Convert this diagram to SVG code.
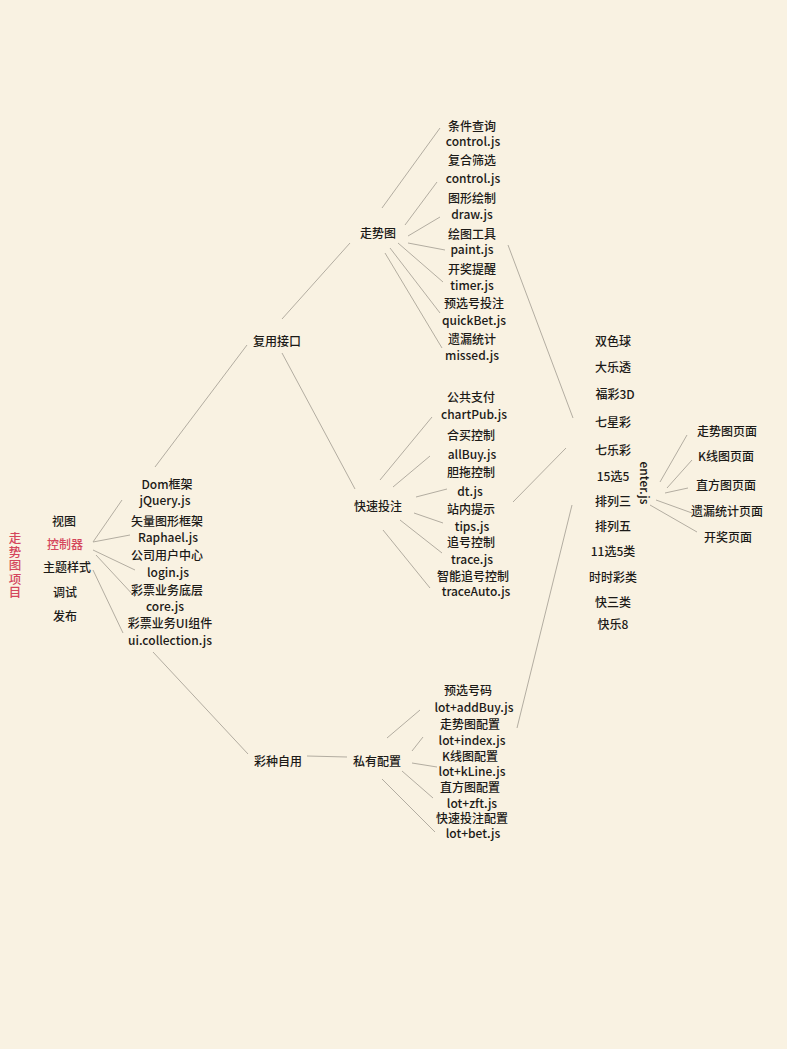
<svg xmlns="http://www.w3.org/2000/svg" width="787" height="1049" viewBox="0 0 787 1049">
<style>
text{font-family:"Noto Sans CJK SC","Noto Sans",sans-serif;font-size:12px;font-weight:500;fill:#1c1a17;text-anchor:middle;dominant-baseline:central}
.red{fill:#d4465c}
.vt{writing-mode:vertical-rl;letter-spacing:1px;font-size:12.5px}
.c line{stroke:#b3ada1;stroke-width:1}
</style>
<rect width="787" height="1049" fill="#f9f2e2"/>
<g class="c" id="connectors">
<line x1="93" y1="542" x2="122" y2="500"/>
<line x1="93" y1="542" x2="130" y2="535"/>
<line x1="93" y1="550" x2="135" y2="570"/>
<line x1="96" y1="555" x2="135" y2="597"/>
<line x1="93" y1="570" x2="123" y2="633"/>
<line x1="155" y1="467" x2="247" y2="345"/>
<line x1="282" y1="319" x2="350" y2="243"/>
<line x1="282" y1="353" x2="355" y2="489"/>
<line x1="153" y1="652" x2="248" y2="754"/>
<line x1="307" y1="756" x2="347" y2="757"/>
<line x1="382" y1="208" x2="440" y2="128"/>
<line x1="405" y1="225" x2="437" y2="182"/>
<line x1="408" y1="236" x2="440" y2="217"/>
<line x1="408" y1="243" x2="445" y2="250"/>
<line x1="398" y1="243" x2="443" y2="282"/>
<line x1="390" y1="248" x2="440" y2="313"/>
<line x1="385" y1="253" x2="442" y2="348"/>
<line x1="380" y1="480" x2="432" y2="417"/>
<line x1="393" y1="487" x2="430" y2="456"/>
<line x1="416" y1="497" x2="447" y2="489"/>
<line x1="414" y1="513" x2="443" y2="523"/>
<line x1="400" y1="520" x2="442" y2="553"/>
<line x1="383" y1="530" x2="430" y2="588"/>
<line x1="387" y1="738" x2="420" y2="710"/>
<line x1="412" y1="751" x2="423" y2="737"/>
<line x1="412" y1="763" x2="437" y2="767"/>
<line x1="402" y1="771" x2="433" y2="798"/>
<line x1="382" y1="779" x2="435" y2="832"/>
<line x1="508" y1="245" x2="573" y2="418"/>
<line x1="566" y1="448" x2="513" y2="502"/>
<line x1="572" y1="505" x2="517" y2="728"/>
<line x1="660" y1="482" x2="687" y2="435"/>
<line x1="667" y1="488" x2="692" y2="460"/>
<line x1="665" y1="493" x2="688" y2="488"/>
<line x1="656" y1="500" x2="692" y2="513"/>
<line x1="650" y1="505" x2="697" y2="532"/>
</g>
<g id="root"><text class="red vt" x="15" y="566">走势图项目</text></g>
<g id="n-view"><text x="64" y="520">视图</text></g>
<g id="n-ctrl"><text class="red" x="65" y="543">控制器</text></g>
<g id="n-theme"><text x="67" y="566">主题样式</text></g>
<g id="n-debug"><text x="65" y="591">调试</text></g>
<g id="n-pub"><text x="65" y="615">发布</text></g>
<g id="n-dom"><text x="167" y="483">Dom框架</text><text x="165" y="499">jQuery.js</text></g>
<g id="n-raphael"><text x="167" y="520">矢量图形框架</text><text x="168" y="536">Raphael.js</text></g>
<g id="n-login"><text x="167" y="554">公司用户中心</text><text x="168" y="571">login.js</text></g>
<g id="n-core"><text x="167" y="589">彩票业务底层</text><text x="165" y="605">core.js</text></g>
<g id="n-ui"><text x="170" y="622">彩票业务UI组件</text><text x="170" y="639">ui.collection.js</text></g>
<g id="n-reuse"><text x="277" y="340">复用接口</text></g>
<g id="n-own"><text x="278" y="760">彩种自用</text></g>
<g id="n-trend"><text x="378" y="232">走势图</text></g>
<g id="n-quick"><text x="378" y="505">快速投注</text></g>
<g id="n-private"><text x="377" y="760">私有配置</text></g>
<g id="t1"><text x="472" y="125">条件查询</text><text x="473" y="140">control.js</text></g>
<g id="t2"><text x="472" y="159">复合筛选</text><text x="473" y="177">control.js</text></g>
<g id="t3"><text x="472" y="197">图形绘制</text><text x="472" y="213">draw.js</text></g>
<g id="t4"><text x="472" y="233">绘图工具</text><text x="472" y="248">paint.js</text></g>
<g id="t5"><text x="472" y="268">开奖提醒</text><text x="472" y="284">timer.js</text></g>
<g id="t6"><text x="474" y="302">预选号投注</text><text x="474" y="319">quickBet.js</text></g>
<g id="t7"><text x="472" y="338">遗漏统计</text><text x="472" y="354">missed.js</text></g>
<g id="q1"><text x="471" y="396">公共支付</text><text x="474" y="413">chartPub.js</text></g>
<g id="q2"><text x="471" y="434">合买控制</text><text x="472" y="453">allBuy.js</text></g>
<g id="q3"><text x="471" y="471">胆拖控制</text><text x="470" y="490">dt.js</text></g>
<g id="q4"><text x="471" y="508">站内提示</text><text x="472" y="525">tips.js</text></g>
<g id="q5"><text x="471" y="541">追号控制</text><text x="472" y="558">trace.js</text></g>
<g id="q6"><text x="473" y="575">智能追号控制</text><text x="476" y="590">traceAuto.js</text></g>
<g id="p1"><text x="468" y="689">预选号码</text><text x="474" y="706">lot+addBuy.js</text></g>
<g id="p2"><text x="470" y="723">走势图配置</text><text x="472" y="739">lot+index.js</text></g>
<g id="p3"><text x="470" y="755">K线图配置</text><text x="472" y="770">lot+kLine.js</text></g>
<g id="p4"><text x="470" y="786">直方图配置</text><text x="472" y="802">lot+zft.js</text></g>
<g id="p5"><text x="472" y="817">快速投注配置</text><text x="473" y="832">lot+bet.js</text></g>
<g id="lotteries">
<text x="613" y="340">双色球</text><text x="613" y="366">大乐透</text><text x="615" y="393">福彩3D</text><text x="613" y="421">七星彩</text><text x="613" y="449">七乐彩</text><text x="613" y="475">15选5</text><text x="613" y="500">排列三</text><text x="613" y="525">排列五</text><text x="613" y="550">11选5类</text><text x="613" y="576">时时彩类</text><text x="613" y="601">快三类</text><text x="613" y="623">快乐8</text>
</g>
<g id="enter"><text transform="translate(645,483) rotate(90)" x="0" y="0">enter.js</text></g>
<g id="pages">
<text x="727" y="430">走势图页面</text><text x="726" y="455">K线图页面</text><text x="726" y="484">直方图页面</text><text x="727" y="510">遗漏统计页面</text><text x="728" y="536">开奖页面</text>
</g>
</svg>
